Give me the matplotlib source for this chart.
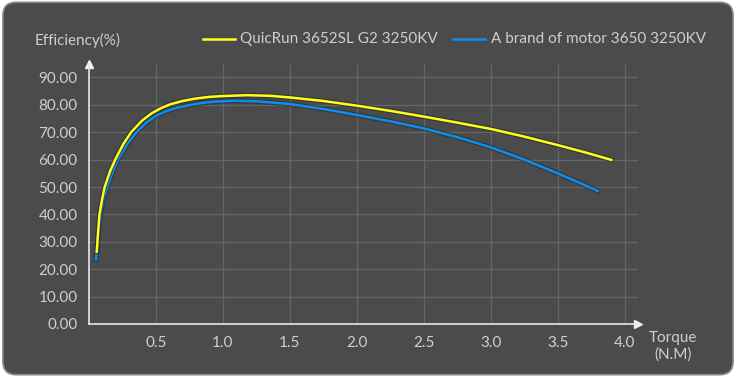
import matplotlib.pyplot as plt
import matplotlib.patheffects as pe
from matplotlib.patches import FancyBboxPatch

# Daten
torque_quicrun = [0.06, 0.07, 0.08, 0.10, 0.12, 0.16, 0.20, 0.26, 0.32, 0.40, 0.47, 0.54, 0.61,
                  0.70, 0.80, 0.90, 1.00, 1.18, 1.35, 1.50, 1.75, 2.00, 2.25, 2.50, 2.75,
                  3.00, 3.25, 3.50, 3.70, 3.90]
eff_quicrun = [26.4, 33.5, 39.8, 45.5, 50.1, 55.8, 60.2, 65.8, 70.2, 74.3, 76.9, 78.8, 80.2,
               81.4, 82.3, 82.9, 83.2, 83.5, 83.3, 82.7, 81.4, 79.7, 77.8, 75.7, 73.5,
               71.2, 68.4, 65.3, 62.7, 59.9]
torque_brand = [0.055, 0.07, 0.09, 0.11, 0.14, 0.18, 0.22, 0.29, 0.36, 0.43, 0.50, 0.57, 0.64,
                0.75, 0.85, 0.95, 1.08, 1.25, 1.50, 1.75, 2.00, 2.25, 2.50, 2.75,
                3.00, 3.25, 3.50, 3.65, 3.80]
eff_brand = [23.6, 32.0, 39.8, 45.3, 50.1, 55.7, 60.2, 65.9, 70.2, 73.5, 75.9, 77.5, 78.7,
             79.9, 80.7, 81.2, 81.5, 81.3, 80.3, 78.5, 76.3, 74.0, 71.4, 68.2,
             64.5, 60.0, 55.0, 51.8, 48.5]
x_ticks = [0.5, 1.0, 1.5, 2.0, 2.5, 3.0, 3.5, 4.0]
y_ticks = [0, 10, 20, 30, 40, 50, 60, 70, 80, 90]

bg = '#4b4b4b'
txt = '#cfcfcf'
plt.rcParams['font.family'] = ['Lato', 'DejaVu Sans']

fig = plt.figure(figsize=(7.36, 3.77), dpi=100, facecolor='white')
rahmen = FancyBboxPatch((0.004, 0.006), 0.992, 0.988, boxstyle='round,pad=0,rounding_size=0.018',
                        transform=fig.transFigure, facecolor=bg, edgecolor='#8a8a8a', linewidth=1.2,
                        mutation_aspect=736 / 377, zorder=-10)
fig.patches.append(rahmen)

ax = fig.add_axes([0.1205, 0.1406, 0.7465, 0.6904])
ax.set_facecolor('none')
ax.set_xlim(0, 4.1)
ax.set_ylim(0, 95)

schatten = [pe.Stroke(linewidth=3.6, foreground='#2c2c2c', alpha=0.6), pe.Normal()]
ax.plot(torque_quicrun, eff_quicrun, color='#ffff1a', linewidth=1.8, path_effects=schatten, zorder=4)
ax.plot(torque_brand, eff_brand, color='#0a8ff0', linewidth=1.8, path_effects=schatten, zorder=3)

ax.set_xticks(x_ticks)
ax.set_xticklabels([f'{v:.1f}' for v in x_ticks])
ax.set_yticks(y_ticks)
ax.set_yticklabels([f'{v:.2f}' for v in y_ticks])
ax.tick_params(axis='both', length=0, colors=txt, labelsize=11)
ax.tick_params(axis='x', pad=9)
ax.tick_params(axis='y', pad=8)
ax.grid(True, color='#666666', linewidth=0.9)
ax.set_axisbelow(True)

for s in ['top', 'right']:
    ax.spines[s].set_visible(False)
for s in ['left', 'bottom']:
    ax.spines[s].set_color('#e8e8e8')
    ax.spines[s].set_linewidth(1.2)
ax.plot(1, 0, '>', color='#f0f0f0', markersize=6, transform=ax.transAxes, clip_on=False)
ax.plot(0, 1, '^', color='#f0f0f0', markersize=6, transform=ax.transAxes, clip_on=False)

# Beschriftungen und Legende
fig.text(35 / 736, 1 - 40 / 377, 'Efficiency(%)', color=txt, fontsize=11, va='center', ha='left')
fig.text(673 / 736, 1 - 338 / 377, 'Torque', color=txt, fontsize=11, va='center', ha='center')
fig.text(673 / 736, 1 - 355 / 377, '(N.M)', color=txt, fontsize=11, va='center', ha='center')

leg_y = 1 - 39 / 377
fig.add_artist(plt.Line2D([203 / 736, 235 / 736], [leg_y, leg_y], color='#ffff1a', linewidth=1.8))
fig.text(240 / 736, leg_y, 'QuicRun 3652SL G2 3250KV', color=txt, fontsize=11, va='center', ha='left')
fig.add_artist(plt.Line2D([453 / 736, 485 / 736], [leg_y, leg_y], color='#0a8ff0', linewidth=1.8))
fig.text(491 / 736, leg_y, 'A brand of motor 3650 3250KV', color=txt, fontsize=11, va='center', ha='left')

fig.savefig('out.png', dpi=100, facecolor='white')
